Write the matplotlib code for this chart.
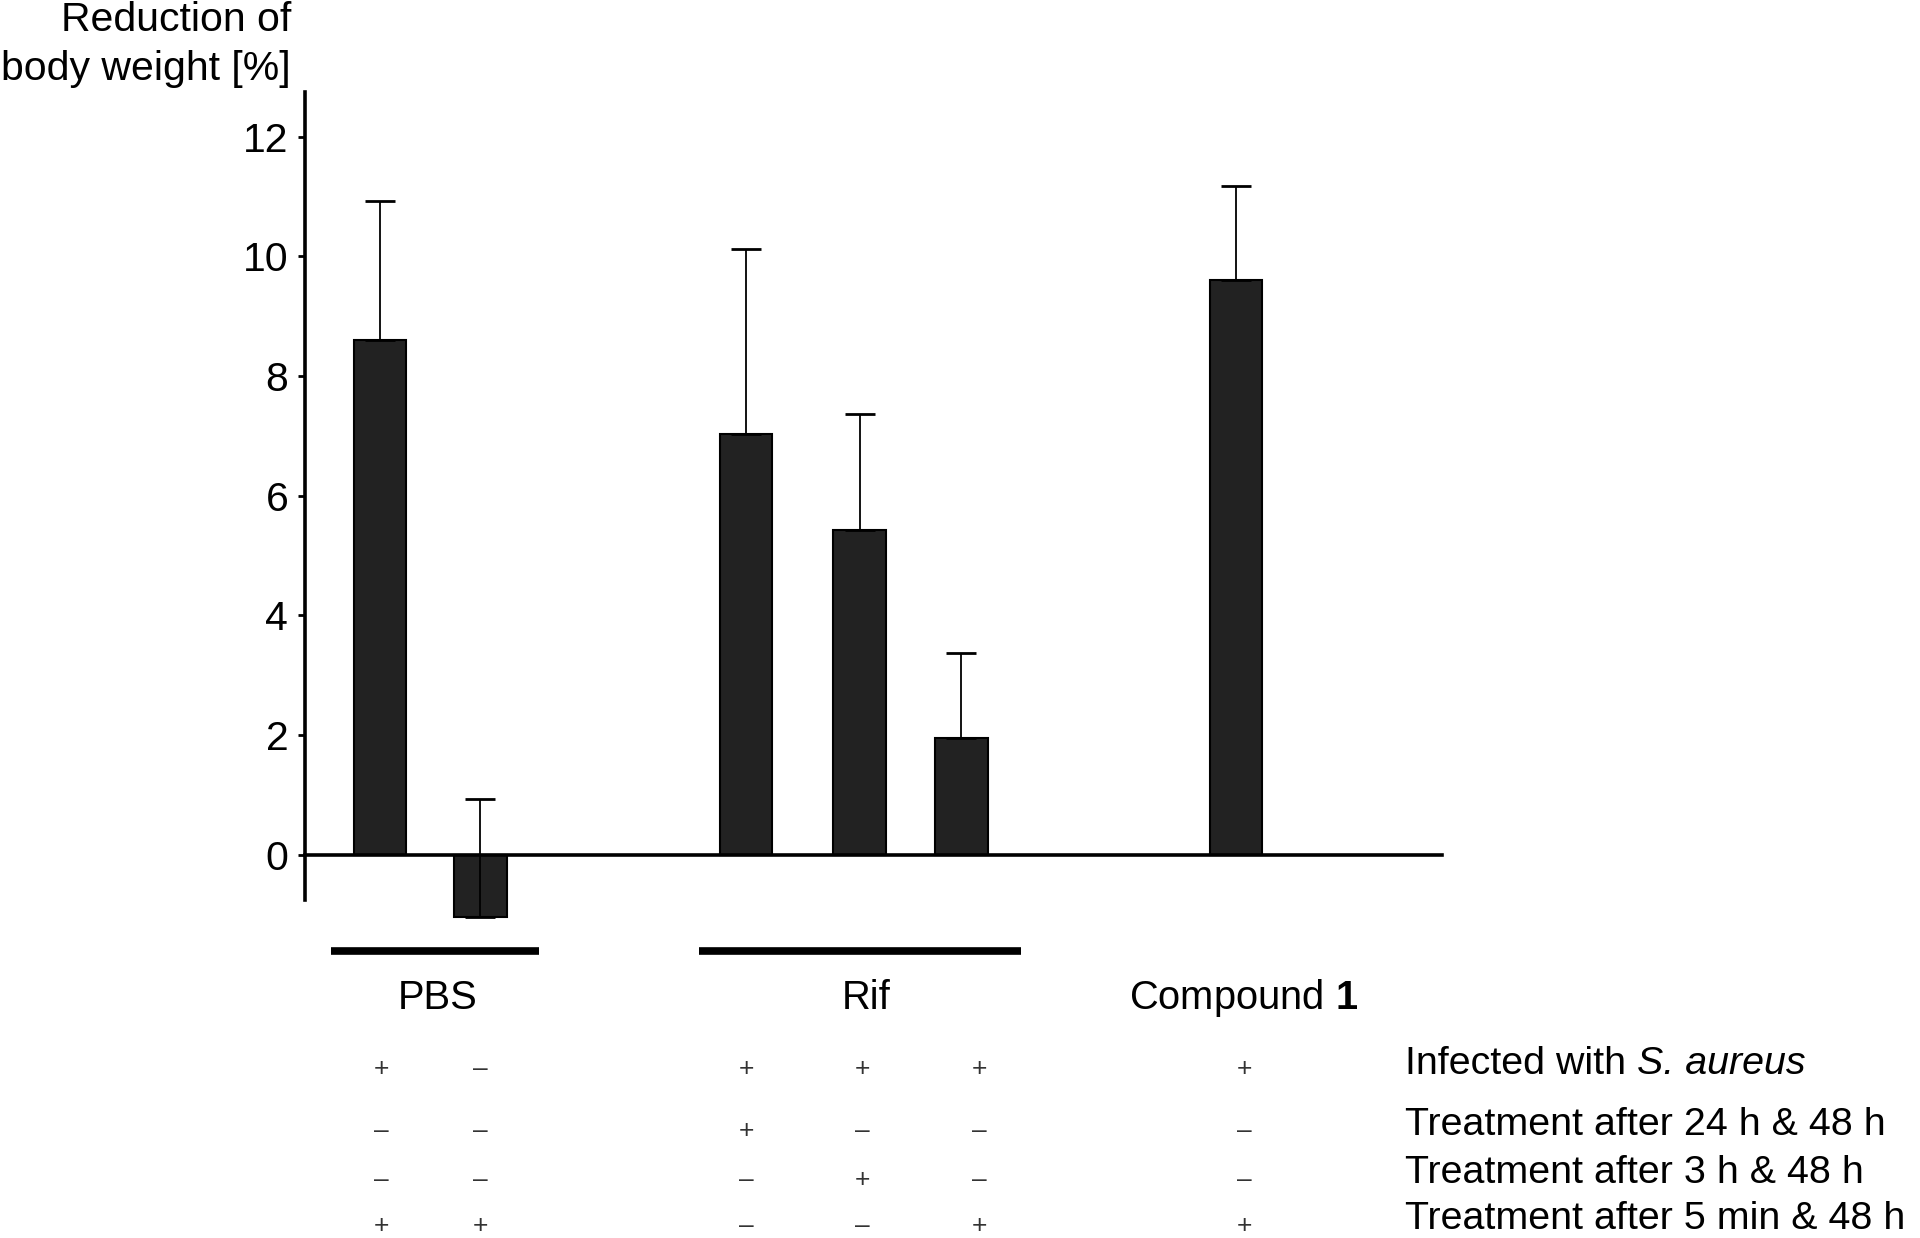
import matplotlib
matplotlib.use("Agg")
import matplotlib.pyplot as plt
from matplotlib.transforms import blended_transform_factory

# ---- data ----
categories = ["PBS inf", "PBS non-inf", "Rif 24h", "Rif 3h", "Rif 5min", "Compound 1"]
values = [8.6, -1.05, 7.03, 5.43, 1.95, 9.6]
errors_up = [2.33, 1.98, 3.10, 1.93, 1.42, 1.57]
y_ticks = [0, 2, 4, 6, 8, 10, 12]

row_labels = ["Infected with",
              "Treatment after 24 h & 48 h",
              "Treatment after 3 h & 48 h",
              "Treatment after 5 min & 48 h"]
species = "S. aureus"
signs = [
    ["+", "–", "+", "+", "+", "+"],
    ["–", "–", "+", "–", "–", "–"],
    ["–", "–", "–", "+", "–", "–"],
    ["+", "+", "–", "–", "+", "+"],
]
group_names = ["PBS", "Rif", "Compound $\\mathbf{1}$"]

# ---- layout ----
bar_x = [1.5, 3.5, 8.8, 11.07, 13.1, 18.58]
sign_x = [1.52, 3.5, 8.8, 11.12, 13.45, 18.75]
group_spans = [(0.51, 4.67), (7.87, 14.28)]
group_label_x = [2.65, 11.2, 18.74]
row_label_x = 21.95

plt.rcParams['font.family'] = ['Liberation Sans', 'DejaVu Sans']
plt.rcParams['mathtext.fontset'] = 'custom'
plt.rcParams['mathtext.rm'] = 'Liberation Sans'
plt.rcParams['mathtext.it'] = 'Liberation Sans:italic'
plt.rcParams['mathtext.bf'] = 'Liberation Sans:bold'

W, H = 1920, 1238
fig = plt.figure(figsize=(W / 100, H / 100), dpi=100)
ax = fig.add_axes([305 / W, 1 - 900 / H, 1137.5 / W, 808 / H])
ax.set_xlim(0, 22.7)
ax.set_ylim(-0.76, 12.75)

bars = ax.bar(bar_x, values, width=1.05, color="#222222", edgecolor="black",
              linewidth=1.5, zorder=2)
for b in bars:
    b.set_clip_on(False)
eb = ax.errorbar(bar_x, values, yerr=[[0] * len(values), errors_up], fmt="none",
                 ecolor="black", elinewidth=1.3, capsize=11, capthick=2.0, zorder=3)
for art in eb.lines[1] + tuple(eb.lines[2]):
    art.set_clip_on(False)

for s in ["top", "right"]:
    ax.spines[s].set_visible(False)
ax.spines["bottom"].set_position(("data", 0))
ax.spines["bottom"].set_linewidth(2.6)
ax.spines["left"].set_linewidth(2.6)
ax.set_xticks([])
ax.set_yticks(y_ticks)
ax.set_yticklabels([str(t) for t in y_ticks])
ax.tick_params(axis="y", length=5, width=2, labelsize=29.5, pad=7, direction="out")

def fy(px):
    return 1 - px / H

tr = blended_transform_factory(ax.transData, fig.transFigure)

# y label
fig.text(291 / W, fy(20), "Reduction of", ha="right", va="center", fontsize=29.5)
fig.text(291 / W, fy(69), "body weight [%]", ha="right", va="center", fontsize=29.5)

# group lines
for (a, b) in group_spans:
    ax.plot([a, b], [fy(951), fy(951)], transform=tr, color="black", lw=5.5,
            solid_capstyle="butt", clip_on=False)

for x, name in zip(group_label_x, group_names):
    ax.text(x, fy(998), name, transform=tr, ha="center", va="center", fontsize=28.7)

label_y = [1064, 1125, 1173, 1219]
sign_y = [1069, 1131, 1180, 1226]
for r in range(4):
    t = ax.text(row_label_x, fy(label_y[r]), row_labels[r], transform=tr,
                ha="left", va="center", fontsize=28.4)
    if r == 0:
        ax.annotate(species, xy=(1, 0), xycoords=t, xytext=(7.9, 0),
                    textcoords="offset points", ha="left", va="bottom",
                    fontsize=28.4, fontstyle="italic")
    for c in range(len(sign_x)):
        ax.text(sign_x[c], fy(sign_y[r]), signs[r][c], transform=tr,
                ha="center", va="center", fontsize=19, color="#333333")

fig.savefig("out.png", dpi=100)
